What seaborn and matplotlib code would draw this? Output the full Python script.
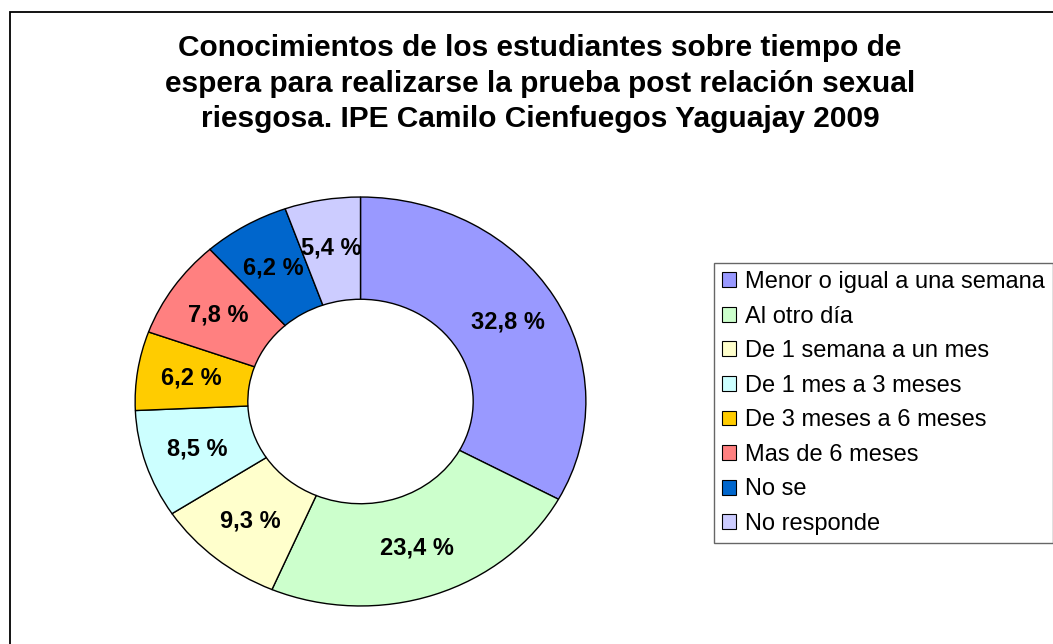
import matplotlib
matplotlib.use("Agg")
import matplotlib.pyplot as plt
from matplotlib.patches import Rectangle, Patch
import seaborn as sns

categories = ["Menor o igual a una semana", "Al otro día", "De 1 semana a un mes",
              "De 1 mes a 3 meses", "De 3 meses a 6 meses", "Mas de 6 meses",
              "No se", "No responde"]
values = [32.8, 23.4, 9.3, 8.5, 6.2, 7.8, 6.2, 5.4]
colors = ["#9999FF", "#CCFFCC", "#FFFFCC", "#CCFFFF", "#FFCC00", "#FF8080",
          "#0066CC", "#CCCCFF"]
title = ("Conocimientos de los estudiantes sobre tiempo de\n"
         "espera para realizarse la prueba post relación sexual\n"
         "riesgosa. IPE Camilo Cienfuegos Yaguajay 2009")

sns.set_theme(style="white")
plt.rcParams['font.family'] = ['Liberation Sans', 'DejaVu Sans']
plt.rcParams['text.color'] = 'black'

W, H = 1053, 644
fig = plt.figure(figsize=(W / 100, H / 100), dpi=100)
fig.patch.set_facecolor("white")

# donut axes (slightly elliptical like the original)
x0, x1, y0, y1 = 134, 587, 196, 607
ax = fig.add_axes([x0 / W, 1 - y1 / H, (x1 - x0) / W, (y1 - y0) / H])

labels_txt = [f"{v:.1f} %".replace(".", ",") for v in values]
it = iter(labels_txt)
wedges, _, autotexts = ax.pie(values, colors=colors, startangle=90, counterclock=False,
                              radius=1.0, autopct=lambda p: next(it), pctdistance=0.76,
                              wedgeprops=dict(width=0.5, edgecolor="black", linewidth=1.0),
                              textprops=dict(fontsize=17, fontweight="bold", color="black"))
ax.set_aspect("auto")
ax.set_xlim(-1.005, 1.005)
ax.set_ylim(-1.005, 1.005)
ax.axis("off")

fig.text(540 / W, 1 - 34 / H, title, ha="center", va="top", fontsize=21.5,
         fontweight="bold", linespacing=1.35, color="black")

handles = [Patch(facecolor=c, edgecolor="black", linewidth=0.8) for c in colors]
leg = fig.legend(handles, categories, loc="upper left",
                 bbox_to_anchor=(714 / W, 1 - 263 / H), bbox_transform=fig.transFigure,
                 fontsize=17, frameon=True, fancybox=False, edgecolor="#404040",
                 handlelength=0.6, handleheight=0.6, handletextpad=0.35,
                 labelspacing=0.53, borderpad=0.35, borderaxespad=0, labelcolor="black")
leg.get_frame().set_linewidth(1.0)

fig.add_artist(Rectangle((10 / W, -0.2), 1.2, (H - 12) / H + 0.2, transform=fig.transFigure,
                         fill=False, edgecolor="black", linewidth=1.3))

fig.savefig("out.png", dpi=100, facecolor="white")
